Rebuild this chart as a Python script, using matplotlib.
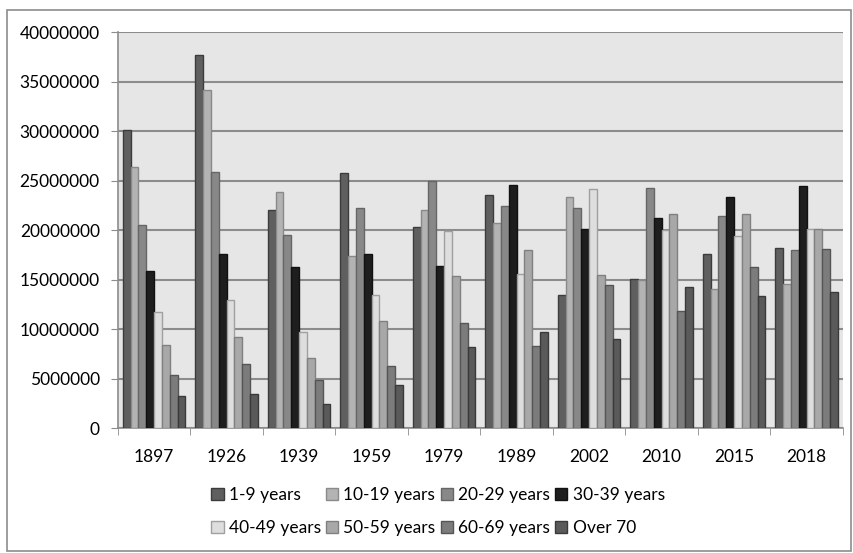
import numpy as np
import matplotlib.pyplot as plt
from matplotlib.patches import Rectangle

years = ['1897', '1926', '1939', '1959', '1979', '1989', '2002', '2010', '2015', '2018']
groups = ['1-9 years', '10-19 years', '20-29 years', '30-39 years',
          '40-49 years', '50-59 years', '60-69 years', 'Over 70']

# values per age group (millions), one entry per year
age_1_9   = [30.1, 37.7, 22.0, 25.8, 20.3, 23.5, 13.4, 15.1, 17.6, 18.2]
age_10_19 = [26.4, 34.1, 23.8, 17.4, 22.0, 20.7, 23.3, 15.0, 14.0, 14.6]
age_20_29 = [20.5, 25.9, 19.5, 22.2, 25.0, 22.4, 22.2, 24.2, 21.4, 18.0]
age_30_39 = [15.9, 17.6, 16.3, 17.6, 16.4, 24.6, 20.1, 21.2, 23.3, 24.4]
age_40_49 = [11.7, 12.9, 9.7, 13.4, 19.9, 15.6, 24.1, 20.0, 19.4, 20.1]
age_50_59 = [8.4, 9.2, 7.1, 10.8, 15.4, 18.0, 15.5, 21.6, 21.6, 20.1]
age_60_69 = [5.4, 6.5, 4.9, 6.3, 10.6, 8.3, 14.4, 11.8, 16.3, 18.1]
over_70   = [3.2, 3.4, 2.4, 4.3, 8.2, 9.7, 9.0, 14.2, 13.3, 13.7]

series = [age_1_9, age_10_19, age_20_29, age_30_39,
          age_40_49, age_50_59, age_60_69, over_70]
colors = ['#5f5f5f', '#b3b3b3', '#888888', '#1e1e1e',
          '#dedede', '#a8a8a8', '#7c7c7c', '#5a5a5a']
edges = ['#3c3c3c', '#8a8a8a', '#666666', '#111111',
         '#a0a0a0', '#808080', '#555555', '#3a3a3a']

plt.rcParams['font.family'] = ['Lato', 'DejaVu Sans']

fig = plt.figure(figsize=(8.54, 5.53), dpi=100)
ax = fig.add_axes([0.138, 0.226, 0.849, 0.716])
ax.set_facecolor('#e6e6e6')

X = np.arange(len(years))
w = 0.108
handles = []
for i, vals in enumerate(series):
    b = ax.bar(X - 3.5 * w + i * w, np.array(vals) * 1e6, width=w,
               color=colors[i], edgecolor=edges[i], linewidth=1.0,
               label=groups[i], zorder=3)
    handles.append(b)

ax.set_xlim(-0.5, len(years) - 0.5)
ax.set_ylim(0, 40000000)
ax.set_yticks(np.arange(0, 40000001, 5000000))
ax.set_yticklabels([str(v) for v in range(0, 40000001, 5000000)], fontsize=12.5)
ax.yaxis.grid(True, color='#8c8c8c', linewidth=1.5, zorder=0)
ax.set_axisbelow(True)

ax.set_xticks(X)
ax.set_xticklabels(years, fontsize=12.5)
ax.set_xticks(np.arange(-0.5, len(years)), minor=True)
ax.tick_params(axis='x', which='major', length=0, pad=15)
ax.tick_params(axis='x', which='minor', length=5, color='#8c8c8c')
ax.tick_params(axis='y', length=5, color='#8c8c8c', pad=8)

for s in ['top', 'right']:
    ax.spines[s].set_visible(False)
for s in ['left', 'bottom']:
    ax.spines[s].set_color('#8c8c8c')
    ax.spines[s].set_linewidth(1.2)

order = [0, 4, 1, 5, 2, 6, 3, 7]
leg = fig.legend([handles[k] for k in order], [groups[k] for k in order],
                 ncol=4, loc='center', bbox_to_anchor=(0.513, 0.075),
                 frameon=False, fontsize=12.5, handlelength=0.7,
                 handleheight=0.7, handletextpad=0.3, columnspacing=0.3,
                 labelspacing=1.0)

fig.patches.append(Rectangle((0.008, 0.004), 0.988, 0.978, transform=fig.transFigure,
                             fill=False, edgecolor='#8c8c8c', linewidth=1.2))

fig.savefig('out.png', dpi=100)
